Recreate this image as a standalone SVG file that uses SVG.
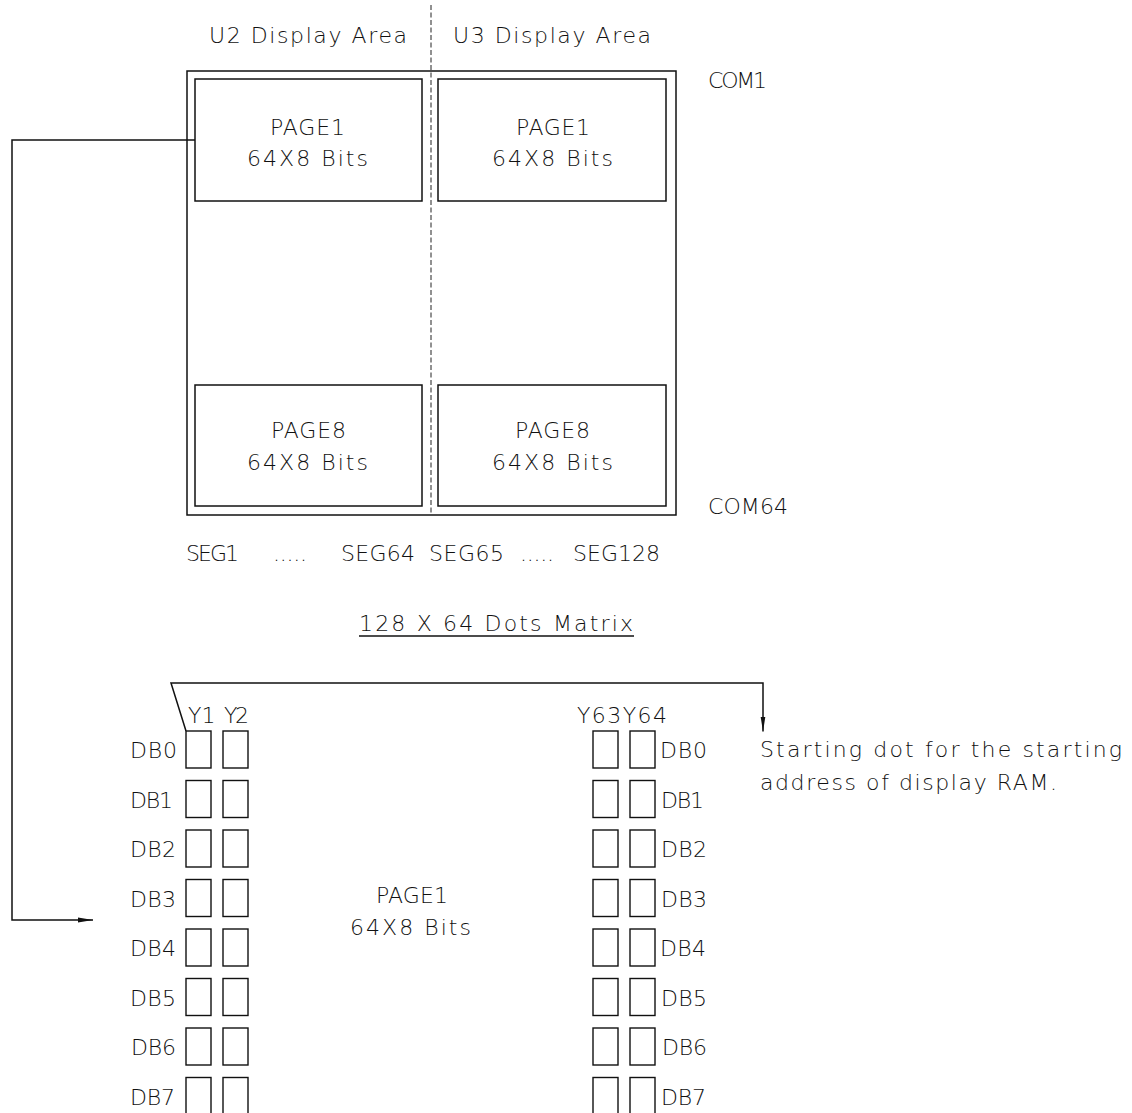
<svg xmlns="http://www.w3.org/2000/svg" width="1132" height="1113" viewBox="0 0 1132 1113">
<style>
.t{font-family:"DejaVu Sans","Open Sans","Liberation Sans",sans-serif;font-size:22px;font-weight:200;fill:#111}
.ln{fill:none;stroke:#111;stroke-width:1.5}
.cell{fill:none;stroke:#111;stroke-width:1.4}
.dash{fill:none;stroke:#222;stroke-width:1;stroke-dasharray:5 2.5}
</style>
<defs>
<marker id="ah" markerWidth="16" markerHeight="6" refX="15" refY="3" orient="auto" markerUnits="userSpaceOnUse">
<path d="M0,0.6 L15,3 L0,5.4 Z" fill="#111"/>
</marker>
</defs>
<rect width="1132" height="1113" fill="#fff"/>

<g id="matrix">
<rect class="ln" x="187" y="71" width="489" height="444"/>
<line class="dash" x1="431" y1="5" x2="431" y2="515"/>
<text class="t" x="209" y="43" textLength="198" lengthAdjust="spacing">U2 Display Area</text>
<text class="t" x="453" y="43" textLength="198" lengthAdjust="spacing">U3 Display Area</text>
<text class="t" x="708" y="88" textLength="59" lengthAdjust="spacing">COM1</text>
<text class="t" x="708" y="514" textLength="80" lengthAdjust="spacing">COM64</text>
</g>

<g id="u2-page1">
<rect class="ln" x="195" y="79" width="227" height="122"/>
<text class="t" x="270" y="135" textLength="75" lengthAdjust="spacing">PAGE1</text>
<text class="t" x="247" y="166" textLength="121" lengthAdjust="spacing">64X8 Bits</text>
</g>
<g id="u3-page1">
<rect class="ln" x="438" y="79" width="228" height="122"/>
<text class="t" x="516" y="135" textLength="74" lengthAdjust="spacing">PAGE1</text>
<text class="t" x="492" y="166" textLength="121" lengthAdjust="spacing">64X8 Bits</text>
</g>
<g id="u2-page8">
<rect class="ln" x="195" y="385" width="227" height="121"/>
<text class="t" x="271" y="438" textLength="75" lengthAdjust="spacing">PAGE8</text>
<text class="t" x="247" y="470" textLength="121" lengthAdjust="spacing">64X8 Bits</text>
</g>
<g id="u3-page8">
<rect class="ln" x="438" y="385" width="228" height="121"/>
<text class="t" x="515" y="438" textLength="75" lengthAdjust="spacing">PAGE8</text>
<text class="t" x="492" y="470" textLength="121" lengthAdjust="spacing">64X8 Bits</text>
</g>

<g id="seg-labels">
<text class="t" x="186" y="561" textLength="53" lengthAdjust="spacing">SEG1</text>
<text class="t" x="273" y="561" textLength="34" lengthAdjust="spacing">.....</text>
<text class="t" x="341" y="561" textLength="74" lengthAdjust="spacing">SEG64</text>
<text class="t" x="429" y="561" textLength="75" lengthAdjust="spacing">SEG65</text>
<text class="t" x="520" y="561" textLength="34" lengthAdjust="spacing">.....</text>
<text class="t" x="573" y="561" textLength="87" lengthAdjust="spacing">SEG128</text>
</g>

<g id="title">
<text class="t" x="359" y="631" textLength="274" lengthAdjust="spacing">128 X 64 Dots Matrix</text>
<line class="ln" x1="359" y1="636" x2="634" y2="636" stroke-width="1.3"/>
</g>

<g id="page1-detail">
<text class="t" x="188" y="723">Y1</text>
<text class="t" x="224" y="723" textLength="25" lengthAdjust="spacing">Y2</text>
<text class="t" x="577" y="723" textLength="90" lengthAdjust="spacing">Y63Y64</text>
<text class="t" x="376" y="903" textLength="72" lengthAdjust="spacing">PAGE1</text>
<text class="t" x="350" y="935" textLength="121" lengthAdjust="spacing">64X8 Bits</text>

<g id="left-cells">
<rect class="cell" x="186" y="731" width="25" height="37"/><rect class="cell" x="223" y="731" width="25" height="37"/>
<rect class="cell" x="186" y="780.5" width="25" height="37"/><rect class="cell" x="223" y="780.5" width="25" height="37"/>
<rect class="cell" x="186" y="830" width="25" height="37"/><rect class="cell" x="223" y="830" width="25" height="37"/>
<rect class="cell" x="186" y="879.5" width="25" height="37"/><rect class="cell" x="223" y="879.5" width="25" height="37"/>
<rect class="cell" x="186" y="929" width="25" height="37"/><rect class="cell" x="223" y="929" width="25" height="37"/>
<rect class="cell" x="186" y="978.5" width="25" height="37"/><rect class="cell" x="223" y="978.5" width="25" height="37"/>
<rect class="cell" x="186" y="1028" width="25" height="37"/><rect class="cell" x="223" y="1028" width="25" height="37"/>
<rect class="cell" x="186" y="1077.5" width="25" height="37"/><rect class="cell" x="223" y="1077.5" width="25" height="37"/>
</g>
<g id="right-cells">
<rect class="cell" x="593" y="731" width="25" height="37"/><rect class="cell" x="630" y="731" width="25" height="37"/>
<rect class="cell" x="593" y="780.5" width="25" height="37"/><rect class="cell" x="630" y="780.5" width="25" height="37"/>
<rect class="cell" x="593" y="830" width="25" height="37"/><rect class="cell" x="630" y="830" width="25" height="37"/>
<rect class="cell" x="593" y="879.5" width="25" height="37"/><rect class="cell" x="630" y="879.5" width="25" height="37"/>
<rect class="cell" x="593" y="929" width="25" height="37"/><rect class="cell" x="630" y="929" width="25" height="37"/>
<rect class="cell" x="593" y="978.5" width="25" height="37"/><rect class="cell" x="630" y="978.5" width="25" height="37"/>
<rect class="cell" x="593" y="1028" width="25" height="37"/><rect class="cell" x="630" y="1028" width="25" height="37"/>
<rect class="cell" x="593" y="1077.5" width="25" height="37"/><rect class="cell" x="630" y="1077.5" width="25" height="37"/>
</g>
<g id="left-db">
<text class="t" x="130" y="758" textLength="47" lengthAdjust="spacing">DB0</text>
<text class="t" x="130" y="807.5" textLength="43" lengthAdjust="spacing">DB1</text>
<text class="t" x="130" y="857" textLength="46" lengthAdjust="spacing">DB2</text>
<text class="t" x="130" y="906.5" textLength="46" lengthAdjust="spacing">DB3</text>
<text class="t" x="130" y="956" textLength="46" lengthAdjust="spacing">DB4</text>
<text class="t" x="130" y="1005.5" textLength="46" lengthAdjust="spacing">DB5</text>
<text class="t" x="131" y="1055" textLength="45" lengthAdjust="spacing">DB6</text>
<text class="t" x="130" y="1104.5" textLength="45" lengthAdjust="spacing">DB7</text>
</g>
<g id="right-db">
<text class="t" x="660" y="758" textLength="47" lengthAdjust="spacing">DB0</text>
<text class="t" x="661" y="807.5" textLength="43" lengthAdjust="spacing">DB1</text>
<text class="t" x="661" y="857" textLength="46" lengthAdjust="spacing">DB2</text>
<text class="t" x="661" y="906.5" textLength="46" lengthAdjust="spacing">DB3</text>
<text class="t" x="660" y="956" textLength="46" lengthAdjust="spacing">DB4</text>
<text class="t" x="661" y="1005.5" textLength="46" lengthAdjust="spacing">DB5</text>
<text class="t" x="662" y="1055" textLength="45" lengthAdjust="spacing">DB6</text>
<text class="t" x="661" y="1104.5" textLength="45" lengthAdjust="spacing">DB7</text>
</g>
</g>

<g id="note">
<text class="t" x="760" y="757" textLength="362" lengthAdjust="spacing">Starting dot for the starting</text>
<text class="t" x="760" y="790" textLength="297" lengthAdjust="spacing">address of display RAM.</text>
</g>

<g id="connectors">
<polyline class="ln" points="195,140 12,140 12,920 93,920" marker-end="url(#ah)"/>
<polyline class="ln" points="186,731 171,683 763,683 763,731.5" marker-end="url(#ah)"/>
</g>
</svg>
